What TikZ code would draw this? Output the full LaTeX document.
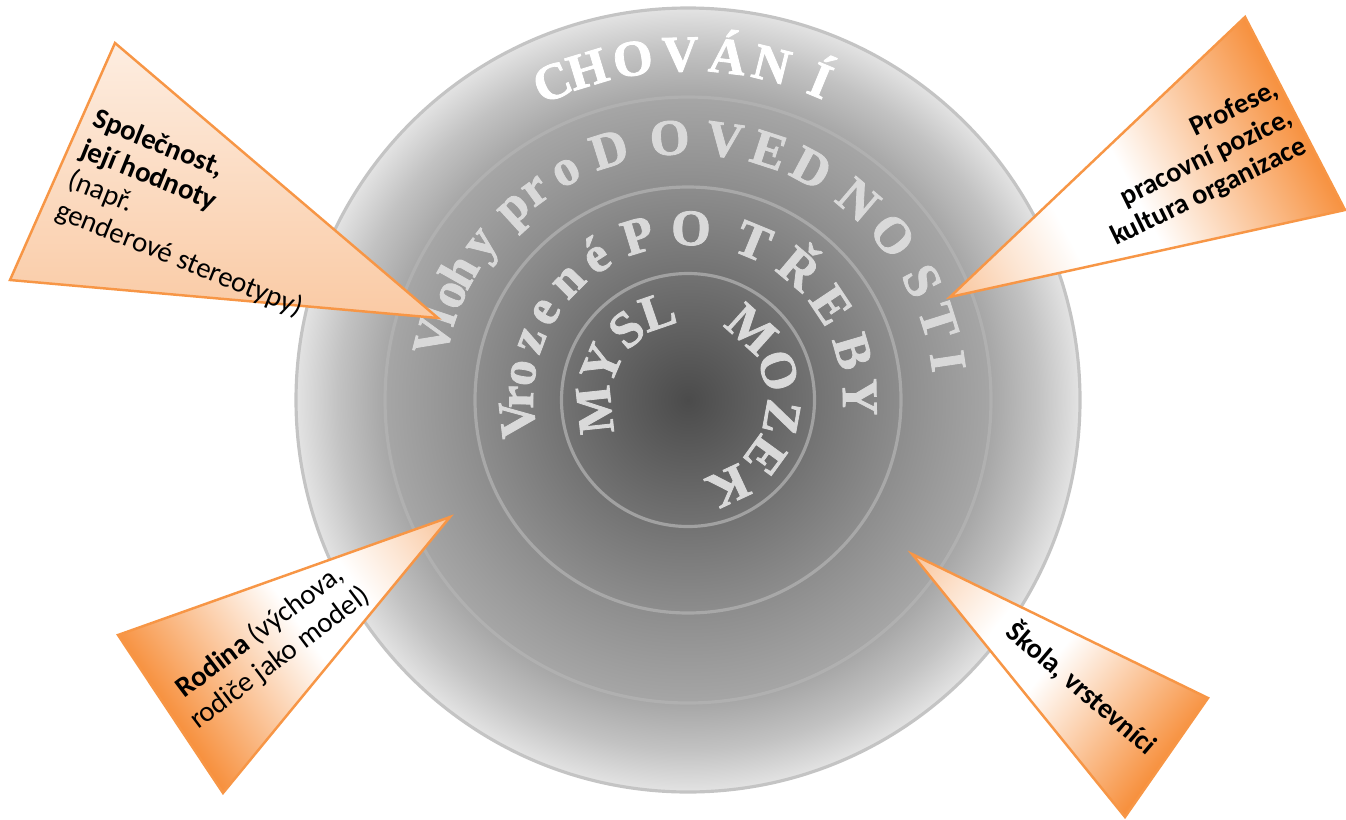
\documentclass[tikz,border=0pt]{standalone}
\usepackage{fontspec}
\setmainfont{Carlito}
\newfontfamily\ringfont{Liberation Serif}[BoldFeatures={FakeBold=1.6}]
\usetikzlibrary{calc, shadings}

\definecolor{disc0}{HTML}{4B4B4B}
\definecolor{disc1}{HTML}{727272}
\definecolor{disc2}{HTML}{8D8D8D}
\definecolor{disc3}{HTML}{A6A6A6}
\definecolor{disc4}{HTML}{C2C2C2}
\definecolor{disc5}{HTML}{E3E3E3}
\definecolor{ringgray}{HTML}{D9D9D9}
\definecolor{calloutline}{HTML}{F79646}
\definecolor{calpeach}{HTML}{F9C49A}
\definecolor{calorange}{HTML}{F7913F}

\pgfdeclareradialshading{discshade}{\pgfpointorigin}{color(0bp)=(disc0); color(8bp)=(disc1); color(13.6bp)=(disc2); color(19.3bp)=(disc3); color(22.3bp)=(disc4); color(25bp)=(disc5); color(50bp)=(disc5)}
\pgfdeclarehorizontalshading{calloutfade}{100bp}{color(0bp)=(calpeach); color(25bp)=(calpeach); color(34bp)=(calpeach!45!white); color(42bp)=(white); color(52bp)=(white); color(75bp)=(calorange); color(100bp)=(calorange)}

\begin{document}
\begin{tikzpicture}[
	ring/.style={line width=0.9pt},
	letter/.style={font=\ringfont\bfseries\fontsize{14.5}{16}\selectfont, text=ringgray, anchor=base, inner sep=0pt},
	callout/.style={draw=calloutline, line width=0.7pt, line join=miter},
	calltext/.style={font=\fontsize{8.2}{9.4}\selectfont, text=black, inner sep=0pt}]
	\useasboundingbox (0,0) rectangle (13.46,8.19);
	\coordinate (c) at (6.88,4.19);
	% rings
	\shade[shading=discshade] (c) circle (3.92);
	\draw[ring, draw=black!23] (c) circle (3.92);
	\draw[ring, draw=black!31] (c) circle (3.03);
	\draw[ring, draw=black!34] (c) circle (2.13);
	\draw[ring, draw=black!37] (c) circle (1.265);
	% ring texts
	\foreach \a/\ch [count=\i] in {113.1/C, 106.9/H, 99.2/O, 91.3/V, 83.4/Á, 76/N, 67.5/Í}
		\node[letter, text=white, rotate=\a-90] (chov-\i) at ($(c)+(\a:3.29)$) {\ch};
	\foreach \a/\ch [count=\i] in {166/V, 161.3/l, 156/o, 150.6/h, 142.9/y, 132.4/p, 126.1/r, 118.1/o, 107.5/D, 94/O, 82/V, 72/E, 62/D, 49.6/N, 38.8/O, 27/S, 17.5/T, 8.5/I}
		\node[letter, rotate=\a-90] (dov-\i) at ($(c)+(\a:2.46)$) {\ch};
	\foreach \a/\ch [count=\i] in {186.5/V, 179/r, 170.7/o, 159.3/z, 148.4/e, 135.3/n, 122.7/é, 107/P, 89/O, 67.6/T, 49.8/Ř, 33.6/E, 16.4/B, 1/Y}
		\node[letter, rotate=\a-90] (potr-\i) at ($(c)+(\a:1.55)$) {\ch};
	\foreach \a/\ch [count=\i] in {186/M, 157/Y, 131/S, 109/L}
		\node[letter, rotate=\a-90] (mysl-\i) at ($(c)+(\a:0.77)$) {\ch};
	\foreach \a/\ch [count=\i] in {48/M, 18/O, -10.5/Z, -36/E, -65/K}
		\node[letter, rotate=\a-90] (mozek-\i) at ($(c)+(\a:0.785)$) {\ch};
	% callouts
	\coordinate (spol-a) at (1.15,7.76);
	\coordinate (spol-b) at (0.10,5.39);
	\coordinate (spol-tip) at (4.38,5.01);
	\coordinate (prof-a) at (12.45,8.02);
	\coordinate (prof-b) at (13.45,6.09);
	\coordinate (prof-tip) at (9.50,5.22);
	\coordinate (rod-a) at (1.18,1.84);
	\coordinate (rod-b) at (2.23,0.26);
	\coordinate (rod-tip) at (4.50,3.02);
	\coordinate (skola-a) at (12.08,1.21);
	\coordinate (skola-b) at (11.25,0.02);
	\coordinate (skola-tip) at (9.12,2.65);
	\shade[callout, top color=white!70!calpeach, bottom color=calpeach!90!white] (spol-a) -- (spol-b) -- (spol-tip) -- cycle;
	\fill[calorange] (prof-a) -- (prof-b) -- (prof-tip) -- cycle;
	\fill[calorange] (rod-a) -- (rod-b) -- (rod-tip) -- cycle;
	\fill[calorange] (skola-a) -- (skola-b) -- (skola-tip) -- cycle;
	\begin{scope}
		\clip (prof-a) -- (prof-b) -- (prof-tip) -- cycle;
		\shade[shading=calloutfade, transform canvas={rotate around={28:(prof-tip)}}] ($(prof-tip)+(0,-3)$) rectangle ($(prof-tip)+(3.91,3)$);
	\end{scope}
	\begin{scope}
		\clip (rod-a) -- (rod-b) -- (rod-tip) -- cycle;
		\shade[shading=calloutfade, transform canvas={rotate around={215.2:(rod-tip)}}] ($(rod-tip)+(0,-3)$) rectangle ($(rod-tip)+(3.42,3)$);
	\end{scope}
	\begin{scope}
		\clip (skola-a) -- (skola-b) -- (skola-tip) -- cycle;
		\shade[shading=calloutfade, transform canvas={rotate around={-38.6:(skola-tip)}}] ($(skola-tip)+(0,-3)$) rectangle ($(skola-tip)+(3.26,3)$);
	\end{scope}
	\draw[callout] (prof-a) -- (prof-b) -- (prof-tip) -- cycle;
	\draw[callout] (rod-a) -- (rod-b) -- (rod-tip) -- cycle;
	\draw[callout] (skola-a) -- (skola-b) -- (skola-tip) -- cycle;
	\node[calltext, rotate=-22, align=left] (spol-text) at (1.98,6.05) {\textbf{Společnost,}\\\textbf{její hodnoty}\\(např.\\genderové stereotypy)};
	\node[calltext, rotate=26, align=right, font=\bfseries\fontsize{8}{9}\selectfont] (prof-text) at (11.95,6.55) {Profese,\\pracovní pozice,\\kultura organizace};
	\node[calltext, rotate=37, align=center] (rod-text) at (2.70,1.74) {\textbf{Rodina} (výchova,\\rodiče jako model)};
	\node[calltext, rotate=-40.5, font=\bfseries\fontsize{8}{9}\selectfont] (skola-text) at (10.82,1.31) {Škola, vrstevníci};
\end{tikzpicture}
\end{document}
